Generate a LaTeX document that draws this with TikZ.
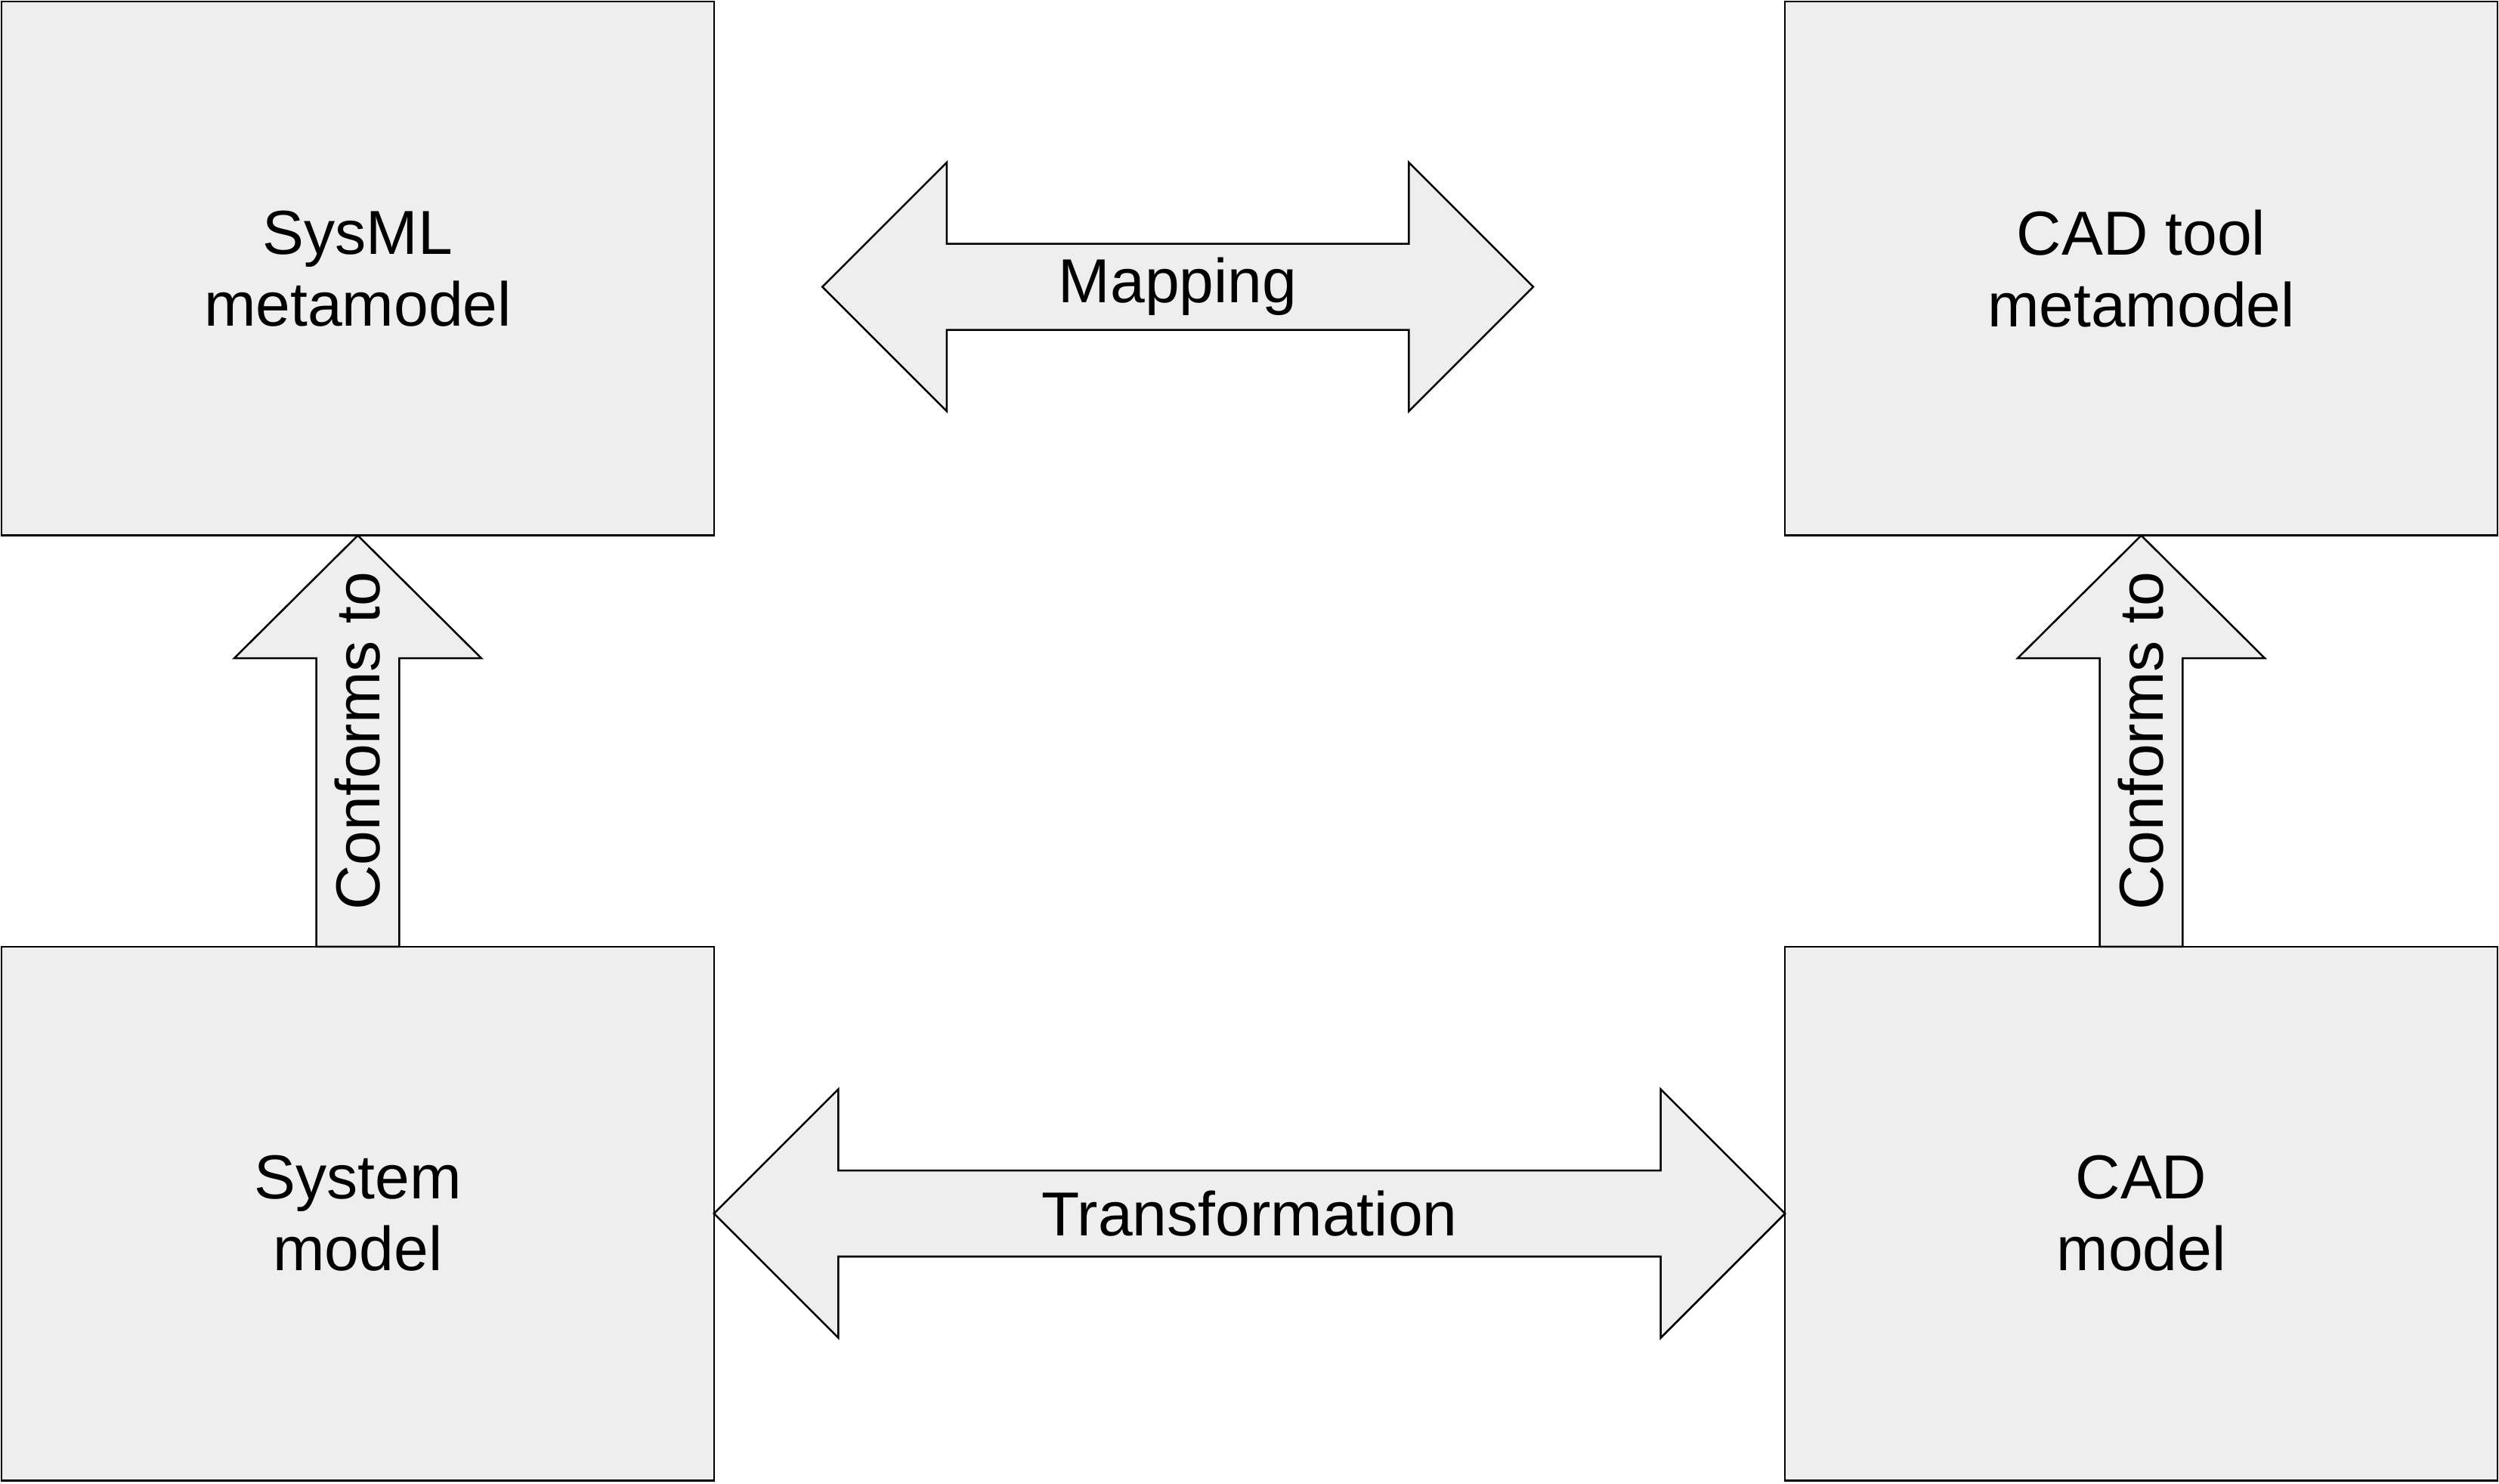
\documentclass[tikz,border=0pt]{standalone}
\usepackage{fontspec}
\setmainfont{Liberation Sans}
\usetikzlibrary{calc}
\definecolor{boxfill}{HTML}{EEEEEE}
\begin{document}
\begin{tikzpicture}[x=0.5pt,y=-0.5pt,
  box/.style={draw=black,fill=boxfill,line width=0.6pt,minimum width=223.5pt,minimum height=167.5pt,inner sep=0pt,outer sep=0pt,align=center,font=\fontsize{19.5}{22.5}\selectfont},
  blk/.style={draw=black,fill=boxfill,line width=0.6pt,line join=miter},
  lbl/.style={inner sep=0pt,font=\fontsize{19.5}{22.5}\selectfont}]
\useasboundingbox (0,0) rectangle (1568,931);
\node[box] (sysmm) at (224.5,168.5) {SysML\\metamodel};
\node[box] (cadmm) at (1343.5,168.5) {CAD tool\\metamodel};
\node[box] (sysm) at (224.5,761.5) {System\\model};
\node[box] (cadm) at (1343.5,761.5) {CAD\\model};
% Mapping
\draw[blk] (516,180) -- (594,102) -- (594,153) -- (884,153) -- (884,102) -- (962,180) -- (884,258) -- (884,207) -- (594,207) -- (594,258) -- cycle;
\node[lbl] (map) at (739,180) {Mapping};
% Transformation
\coordinate (tl) at (sysm.east);
\coordinate (tr) at (cadm.west);
\draw[blk] (tl) -- ++(78,-78) -- ++(0,51) -- ($(tr)+(-78,-27)$) -- ++(0,-51) -- (tr) -- ++(-78,78) -- ++(0,-51) -- ($(tl)+(78,27)$) -- ++(0,51) -- cycle;
\node[lbl] (trf) at ($(tl)!0.5!(tr)$) {Transformation};
% Conforms to (left)
\coordinate (c1b) at (sysm.north);
\coordinate (c1t) at (sysmm.south);
\draw[blk] (c1t) -- ++(77.5,77) -- ++(-51.5,0) -- ($(c1b)+(26,0)$) -- ($(c1b)+(-26,0)$) -- ($(c1t)+(-26,77)$) -- ++(-51.5,0) -- cycle;
\node[lbl,rotate=90] (cf1) at ($(c1t)!0.5!(c1b)$) {Conforms to};
% Conforms to (right)
\coordinate (c2b) at (cadm.north);
\coordinate (c2t) at (cadmm.south);
\draw[blk] (c2t) -- ++(77.5,77) -- ++(-51.5,0) -- ($(c2b)+(26,0)$) -- ($(c2b)+(-26,0)$) -- ($(c2t)+(-26,77)$) -- ++(-51.5,0) -- cycle;
\node[lbl,rotate=90] (cf2) at ($(c2t)!0.5!(c2b)$) {Conforms to};
\end{tikzpicture}
\end{document}
